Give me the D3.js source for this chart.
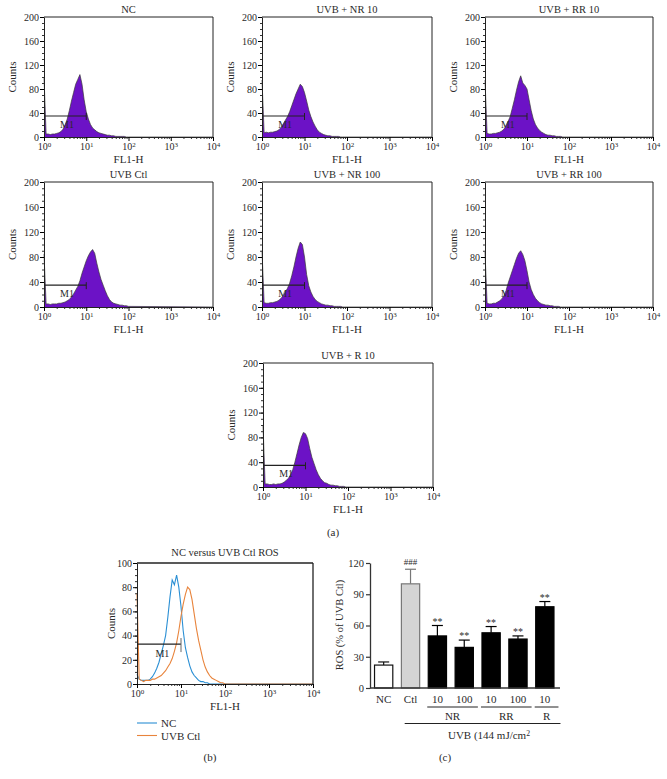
<!DOCTYPE html>
<html><head><meta charset="utf-8">
<script src="https://cdn.jsdelivr.net/npm/d3@7"></script>
<style>
body{margin:0;background:#fff}
svg{display:block}
text{font-family:"Liberation Serif","Times New Roman",serif;fill:#2a2a2a}
</style>
</head><body>
<svg id="c" width="667" height="779"></svg>
<script>
// ---------- DATA ----------
// FL1-H channel positions (log10 of fluorescence)
const logChannels = [0,0.05,0.1,0.15,0.2,0.25,0.3,0.35,0.4,0.45,0.5,0.55,0.6,0.65,0.7,0.75,0.8,0.85,0.9,0.95,1.0,1.05,1.1,1.15,1.2,1.25,1.3,1.35,1.4,1.45,1.5,1.55,1.6,1.65,1.7,1.75,1.8,1.85,1.9,1.95,2.0];
const fl1Ticks = [1, 10, 100, 1000, 10000];
const countTicksA = [0, 40, 80, 120, 160, 200];
const countTicksB = [0, 20, 40, 60, 80, 100];

const histTitles = ["NC", "UVB + NR 10", "UVB + RR 10", "UVB Ctl", "UVB + NR 100", "UVB + RR 100", "UVB + R 10"];
const histNC     = [100,5,5,4,5,5,6,7,9,13, 20,30,44,60,74,88,96,104,88,62, 42,30,21,15,12,9,7,6,5,4, 3,3,2,2,1,1,1,1,1,0, 0];
const histNR10   = [95,7,8,7,8,8,9,10,12,16, 22,28,34,42,52,62,72,80,88,84, 74,60,45,34,25,18,12,8,6,4, 3,2,2,1,1,1,1,0,0,0, 0];
const histRR10   = [95,6,5,5,6,6,7,8,10,13, 18,26,34,48,62,78,92,102,90,86, 80,62,44,30,21,15,11,8,6,4, 3,3,2,2,1,1,1,0,0,0, 0];
const histUVBCtl = [85,5,5,4,5,5,5,6,6,7, 8,10,12,16,21,27,33,42,54,64, 74,82,88,92,86,70,56,44,35,26, 18,12,8,6,5,4,3,3,2,2, 1];
const histNR100  = [90,7,6,6,7,7,8,9,11,14, 18,24,30,38,50,64,80,94,104,100, 80,52,34,24,17,12,9,7,5,4, 3,3,2,2,1,1,1,1,0,0, 0];
const histRR100  = [88,6,5,5,6,6,8,10,13,18, 26,38,48,58,68,78,86,90,84,74, 58,40,28,20,14,10,7,5,4,3, 3,2,2,1,1,1,0,0,0,0, 0];
const histR10    = [100,5,5,4,4,5,4,5,5,6, 8,11,14,20,28,40,54,68,80,88, 86,78,62,48,38,28,20,14,10,7, 6,4,3,3,2,2,1,1,1,0, 0];
const histSeries = [histNC, histNR10, histRR10, histUVBCtl, histNR100, histRR100, histR10];

const gateRange = [1, 10];
const gateLevelA = 35;
const gateLevelB = 33;
const gateLabel = "M1";

const overlayTitle = "NC versus UVB Ctl ROS";
const overlayNames = ["NC", "UVB Ctl"];
const overlayNC  = [8,4,3,3,3,3,4,6,9,13, 18,25,32,40,55,72,86,82,90,80, 64,44,30,22,15,10,7,5,3,2, 2,1,1,0,0,0,0,0,0,0, 0];
const overlayUVB = [75,4,3,2,3,3,3,4,4,5, 6,7,9,11,14,17,21,27,34,44, 56,66,74,80,78,70,58,46,36,28, 20,14,10,7,5,4,3,2,1,1, 0];

const barKeys   = ["NC", "Ctl", "NR10", "NR100", "RR10", "RR100", "R10"];
const barLabels = ["NC", "Ctl", "10", "100", "10", "100", "10"];
const rosValues = [22, 100, 50, 39, 53, 47, 78];
const rosErrors = [3, 14, 10, 7, 6, 3, 5];
const rosMarks  = ["", "###", "**", "**", "**", "**", "**"];
const rosTicks  = [0, 30, 60, 90, 120];
const groupNames = ["NR", "RR", "R"];
const groupFrom  = ["NR10", "RR10", "R10"];
const groupTo    = ["NR100", "RR100", "R10"];
const uvbLabel = "UVB (144 mJ/cm";

// ---------- DRAW ----------
const svg = d3.select("#c");
const SERIF = '"Liberation Serif","Times New Roman",serif';

function supLabels(sel){
  sel.selectAll(".tick text").each(function(d){
    const t = d3.select(this); t.text(null);
    t.append("tspan").text("10");
    t.append("tspan").attr("dy","-0.45em").attr("font-size","0.7em").text(Math.round(Math.log10(d)));
  });
}
function minorLog(){
  const out=[];
  for(let k=0;k<4;k++) for(let m=2;m<10;m++) out.push(m*Math.pow(10,k));
  return out;
}

function flowAxes(g, x, y, box, yTicks, yMinorStep, opts){
  const [x0,x1,y0,y1] = box;
  g.append("line").attr("x1",x0).attr("x2",x1).attr("y1",y0).attr("y2",y0).attr("stroke","#222").attr("stroke-width",opts.frameW||1);
  g.append("line").attr("x1",x1).attr("x2",x1).attr("y1",y0).attr("y2",y1).attr("stroke","#222").attr("stroke-width",opts.frameW||1);
  const yMax = yTicks[yTicks.length-1];
  g.append("g").attr("transform",`translate(${x0},0)`)
    .call(d3.axisLeft(y).tickValues(d3.range(0,yMax+1,yMinorStep)).tickSize(2).tickFormat(""))
    .call(s=>s.select(".domain").remove())
    .selectAll("line").attr("stroke","#333");
  const ya = g.append("g").attr("transform",`translate(${x0},0)`)
    .call(d3.axisLeft(y).tickValues(yTicks).tickSize(4).tickPadding(1).tickSizeOuter(0));
  ya.select(".domain").attr("stroke","#222");
  ya.selectAll("text").attr("font-size",10).attr("font-family",SERIF).attr("fill","#2a2a2a");
  g.append("g").attr("transform",`translate(0,${y1})`)
    .call(d3.axisBottom(x).tickValues(minorLog()).tickSize(2).tickFormat(""))
    .call(s=>s.select(".domain").remove())
    .selectAll("line").attr("stroke","#333");
  const xa = g.append("g").attr("transform",`translate(0,${y1})`)
    .call(d3.axisBottom(x).tickValues(fl1Ticks).tickSize(4).tickPadding(2).tickSizeOuter(0));
  xa.select(".domain").attr("stroke","#222").attr("stroke-width",1.2);
  xa.selectAll("text").attr("font-size",10).attr("font-family",SERIF).attr("fill","#2a2a2a");
  supLabels(xa);
  g.append("text").attr("x",(x0+x1)/2).attr("y",y1+26).attr("text-anchor","middle").attr("font-size",11).text("FL1-H");
  g.append("text").attr("transform",`translate(${x0-opts.countsOff},${(y0+y1)/2}) rotate(-90)`).attr("text-anchor","middle").attr("font-size",11).text("Counts");
}

function seriesPoints(vals){
  const pts = logChannels.map((e,i)=>[Math.pow(10,e), vals[i]]);
  pts.push([fl1Ticks[fl1Ticks.length-1], 0]);
  return pts;
}

const histBoxes = [
  [44,213,17,137],[262,432,17,137],[485,653,17,137],
  [44,213,182,307],[262,432,182,307],[485,653,182,307],
  [263,433,363,487]
];

histSeries.forEach((vals,i)=>{
  const box = histBoxes[i];
  const [x0,x1,y0,y1] = box;
  const g = svg.append("g");
  const x = d3.scaleLog().domain([fl1Ticks[0], fl1Ticks[fl1Ticks.length-1]]).range([x0,x1]);
  const y = d3.scaleLinear().domain([0, countTicksA[countTicksA.length-1]]).range([y1,y0]);
  const pts = seriesPoints(vals);
  const area = d3.area().x(d=>x(d[0])).y0(y(0)).y1(d=>y(d[1]));
  const line = d3.line().x(d=>x(d[0])).y(d=>y(d[1]));
  g.append("path").attr("d",area(pts)).attr("fill","#6c12c6");
  g.append("path").attr("d",line(pts)).attr("fill","none").attr("stroke","#3a3a3a").attr("stroke-width",0.7);
  flowAxes(g, x, y, box, countTicksA, 10, {countsOff:28});
  const gy = y(gateLevelA);
  g.append("line").attr("x1",x(gateRange[0])).attr("x2",x(gateRange[1])).attr("y1",gy).attr("y2",gy).attr("stroke","#222").attr("stroke-width",1.2);
  g.append("line").attr("x1",x(gateRange[1])).attr("x2",x(gateRange[1])).attr("y1",gy-3).attr("y2",gy+4).attr("stroke","#222").attr("stroke-width",1);
  g.append("text").attr("x",x(Math.pow(10,0.38))).attr("y",gy+12).attr("font-size",10).text(gateLabel);
  g.append("text").attr("x",(x0+x1)/2).attr("y",y0-4).attr("text-anchor","middle").attr("font-size",10.5).text(histTitles[i]);
});

svg.append("text").attr("x",333).attr("y",536).attr("text-anchor","middle").attr("font-size",11).text("(a)");

// ---------- Panel b ----------
{
  const box = [137,313,563,684];
  const [x0,x1,y0,y1] = box;
  const g = svg.append("g");
  const x = d3.scaleLog().domain([fl1Ticks[0], fl1Ticks[fl1Ticks.length-1]]).range([x0,x1]);
  const y = d3.scaleLinear().domain([0, countTicksB[countTicksB.length-1]]).range([y1,y0]);
  const line = d3.line().x(d=>x(d[0])).y(d=>y(d[1]));
  const colors = ["#2a8fd4", "#e8843c"];
  [overlayNC, overlayUVB].forEach((vals,i)=>{
    g.append("path").attr("d",line(seriesPoints(vals))).attr("fill","none").attr("stroke",colors[i]).attr("stroke-width",1.1);
  });
  flowAxes(g, x, y, box, countTicksB, 5, {countsOff:22, frameW:1.3});
  const gy = y(gateLevelB);
  g.append("line").attr("x1",x(gateRange[0])).attr("x2",x(gateRange[1])).attr("y1",gy).attr("y2",gy).attr("stroke","#222").attr("stroke-width",1.2);
  g.append("line").attr("x1",x(gateRange[1])).attr("x2",x(gateRange[1])).attr("y1",gy-6).attr("y2",gy+8).attr("stroke","#666").attr("stroke-width",1);
  g.append("text").attr("x",x(Math.pow(10,0.42))).attr("y",gy+13).attr("font-size",10).text(gateLabel);
  g.append("text").attr("x",(x0+x1)/2).attr("y",y0-7).attr("text-anchor","middle").attr("font-size",10.5).text(overlayTitle);
  overlayNames.forEach((n,i)=>{
    const ly = 723 + i*12.5;
    g.append("line").attr("x1",x0).attr("x2",x0+20).attr("y1",ly).attr("y2",ly).attr("stroke",colors[i]).attr("stroke-width",1.1);
    g.append("text").attr("x",x0+24).attr("y",ly+4).attr("font-size",11).text(n);
  });
  svg.append("text").attr("x",210).attr("y",761).attr("text-anchor","middle").attr("font-size",11).text("(b)");
}

// ---------- Panel c ----------
{
  const g = svg.append("g");
  const yTop = 563, yBot = 688, xL = 370, xR = 560;
  const x = d3.scaleBand().domain(barKeys).range([370.5, 558]).paddingInner(0.32).paddingOuter(0.15);
  const y = d3.scaleLinear().domain([0, rosTicks[rosTicks.length-1]]).range([yBot, yTop]);
  const fill = d3.scaleOrdinal(barKeys, ["#ffffff","#d4d4d4","#000","#000","#000","#000","#000"]);
  const stroke = d3.scaleOrdinal(barKeys, ["#111","#777","#000","#000","#000","#000","#000"]);
  barKeys.forEach((k,i)=>{
    const bx = x(k), bw = x.bandwidth(), cx = bx + bw/2;
    const top = y(rosValues[i]), cap = y(rosValues[i] + rosErrors[i]);
    g.append("line").attr("x1",cx).attr("x2",cx).attr("y1",top).attr("y2",cap).attr("stroke",stroke(k)).attr("stroke-width",1.2);
    g.append("line").attr("x1",cx-5.5).attr("x2",cx+5.5).attr("y1",cap).attr("y2",cap).attr("stroke",stroke(k)).attr("stroke-width",1.2);
    g.append("rect").attr("x",bx).attr("y",top).attr("width",bw).attr("height",yBot-top)
      .attr("fill",fill(k)).attr("stroke",stroke(k)).attr("stroke-width",1.2);
    if (rosMarks[i]) {
      const hash = rosMarks[i].startsWith("#");
      g.append("text").attr("x",cx).attr("y",cap-(hash?4:1)).attr("text-anchor","middle")
        .attr("font-size",hash?9:10).attr("fill","#444").text(rosMarks[i]);
    }
    g.append("text").attr("x",cx).attr("y",703).attr("text-anchor","middle").attr("font-size",11).text(barLabels[i]);
  });
  const ya = g.append("g").attr("transform",`translate(${xL},0)`)
    .call(d3.axisLeft(y).tickValues(rosTicks).tickSize(4).tickPadding(2).tickSizeOuter(0));
  ya.select(".domain").attr("stroke","#333").attr("stroke-width",1.3);
  ya.selectAll("line").attr("stroke","#333").attr("stroke-width",1.2);
  ya.selectAll("text").attr("font-size",10.5).attr("font-family",SERIF).attr("fill","#2a2a2a");
  g.append("line").attr("x1",xL).attr("x2",xR).attr("y1",yBot).attr("y2",yBot).attr("stroke","#333").attr("stroke-width",1.6);
  g.append("text").attr("transform",`translate(343,625) rotate(-90)`).attr("text-anchor","middle").attr("font-size",10.5).text("ROS (% of UVB Ctl)");
  groupNames.forEach((n,i)=>{
    const a = x(groupFrom[i]) - 1, b = x(groupTo[i]) + x.bandwidth() + 4.5;
    g.append("line").attr("x1",a).attr("x2",b).attr("y1",707).attr("y2",707).attr("stroke","#222").attr("stroke-width",1);
    g.append("text").attr("x",(a+b)/2).attr("y",720).attr("text-anchor","middle").attr("font-size",11).text(n);
  });
  const ua = x("Ctl") + 3.3, ub = x("R10") + x.bandwidth() + 6.5;
  g.append("line").attr("x1",ua).attr("x2",ub).attr("y1",723.5).attr("y2",723.5).attr("stroke","#222").attr("stroke-width",1);
  const ut = g.append("text").attr("x",489).attr("y",739).attr("text-anchor","middle").attr("font-size",11);
  ut.append("tspan").text(uvbLabel);
  ut.append("tspan").attr("dy","-0.45em").attr("font-size","0.7em").text("2");
  svg.append("text").attr("x",445).attr("y",761).attr("text-anchor","middle").attr("font-size",11).text("(c)");
}
</script>
</body></html>
